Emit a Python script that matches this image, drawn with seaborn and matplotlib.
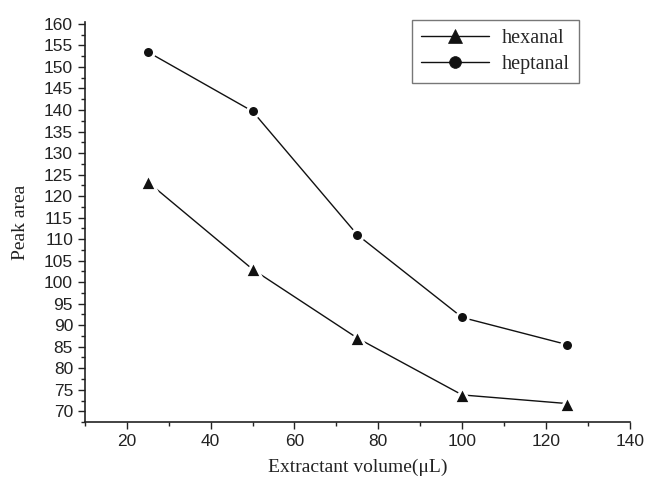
import numpy as np
import pandas as pd
import matplotlib
matplotlib.use("Agg")
import matplotlib.pyplot as plt
import seaborn as sns
from matplotlib.ticker import MultipleLocator

# data
volume = [25, 50, 75, 100, 125]
hexanal = [123.3, 103.0, 87.0, 73.8, 71.8]
heptanal = [153.5, 139.7, 111.0, 91.8, 85.5]

df = pd.DataFrame({
    "volume": volume * 2,
    "area": hexanal + heptanal,
    "compound": ["hexanal"] * len(volume) + ["heptanal"] * len(volume),
})

sns.set_style("ticks")
plt.rcParams["font.family"] = ["Liberation Sans", "DejaVu Sans"]

fig = plt.figure(figsize=(6.48, 4.84), dpi=100)
ax = fig.add_axes([0.131, 0.128, 0.841, 0.827])

sns.lineplot(data=df, x="volume", y="area", hue="compound", style="compound",
             markers={"hexanal": "^", "heptanal": "o"}, dashes=False,
             palette={"hexanal": "#111111", "heptanal": "#111111"},
             markersize=8.5, markeredgecolor="white", markeredgewidth=2.0,
             linewidth=1.0, ax=ax)
# triangles look smaller than circles at the same size
for ln in ax.lines:
    if ln.get_marker() == "^":
        ln.set_markersize(11)

ax.set_xlim(10, 140)
ax.set_ylim(67.5, 160.5)
ax.xaxis.set_minor_locator(MultipleLocator(10))
ax.yaxis.set_minor_locator(MultipleLocator(2.5))
ax.set_xticks(np.arange(20, 141, 20))
ax.set_yticks(np.arange(70, 161, 5))

ax.tick_params(axis="both", which="major", direction="out", length=5, width=1,
               labelsize=12.5, colors="#222222")
ax.tick_params(axis="both", which="minor", direction="out", length=3, width=1,
               colors="#222222")
for s in ["top", "right"]:
    ax.spines[s].set_visible(False)
for s in ["left", "bottom"]:
    ax.spines[s].set_color("#222222")
    ax.spines[s].set_linewidth(1.2)

ax.set_xlabel("Extractant volume(μL)", family=["Liberation Serif", "DejaVu Serif"],
              fontsize=14, color="#222222", labelpad=7)
ax.set_ylabel("Peak area", family=["Liberation Serif", "DejaVu Serif"],
              fontsize=14, color="#222222", labelpad=11)

handles, labels = ax.get_legend_handles_labels()
for h in handles:
    h.set_markeredgecolor("#111111")
    h.set_markeredgewidth(0.5)
    if h.get_marker() == "^":
        h.set_markersize(10)
leg = ax.legend(handles, labels, loc="upper left", bbox_to_anchor=(0.6, 1.005),
                frameon=True, fancybox=False, edgecolor="#555555",
                prop={"family": "Liberation Serif", "size": 14.5},
                handlelength=3.4, handletextpad=0.6, borderpad=0.45,
                labelspacing=0.35, borderaxespad=0)
leg.get_frame().set_linewidth(1.0)

fig.savefig("out.png", dpi=100)
